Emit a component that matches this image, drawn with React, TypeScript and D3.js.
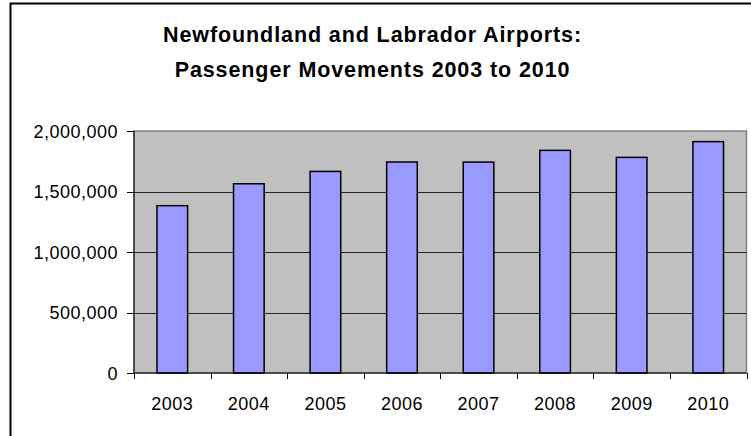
import React from "react";
import * as d3 from "d3";

const years = ["2003", "2004", "2005", "2006", "2007", "2008", "2009", "2010"];
const passengers = [1383000, 1564000, 1666000, 1744000, 1743000, 1840000, 1782000, 1912000];
const yTicks = [0, 500000, 1000000, 1500000, 2000000];
const titleLines = ["Newfoundland and Labrador Airports:", "Passenger Movements 2003 to 2010"];

export default function App() {
  const W = 751, H = 436;
  const left = 134, right = 746.5, top = 131, bottom = 373;
  const x = d3.scaleBand().domain(years).range([left, right]).paddingInner(0.6).paddingOuter(0.3);
  const xb = d3.scaleBand().domain(years).range([left, right]);
  const y = d3.scaleLinear().domain([0, 2000000]).range([bottom, top]);
  const fmt = d3.format(",");
  const font = "'Liberation Sans', Arial, sans-serif";
  return (
    <svg width={W} height={H} style={{ position: "absolute", left: 0, top: 0 }}>
      <rect x={0} y={0} width={W} height={H} fill="#fff" />
      <rect x={10.5} y={3.5} width={W + 10} height={H + 10} fill="none" stroke="#000" strokeWidth={2} />
      {titleLines.map((t, i) => (
        <text key={i} x={372.5} y={41.5 + i * 35} textAnchor="middle" fontFamily={font} fontWeight="bold" fontSize={21.5} letterSpacing={0.9} fill="#000">{t}</text>
      ))}
      <rect x={left} y={top} width={right - left} height={bottom - top} fill="#C0C0C0" stroke="#808080" strokeWidth={1.5} />
      {yTicks.filter(v => v > 0 && v < 2000000).map(v => (
        <line key={v} x1={left} x2={right} y1={Math.round(y(v)) + 0.5} y2={Math.round(y(v)) + 0.5} stroke="#222" strokeWidth={1} />
      ))}
      {years.map((yr, i) => (
        <rect key={yr} x={x(yr)!} y={y(passengers[i])} width={x.bandwidth()} height={bottom - y(passengers[i])} fill="#9999FF" stroke="#000" strokeWidth={1.5} />
      ))}
      <line x1={left} x2={left} y1={top} y2={bottom} stroke="#000" strokeWidth={1} />
      <line x1={left} x2={right} y1={bottom} y2={bottom} stroke="#000" strokeWidth={1.2} />
      {yTicks.map(v => (
        <g key={v}>
          <line x1={left - 7} x2={left} y1={Math.round(y(v)) + 0.5} y2={Math.round(y(v)) + 0.5} stroke="#000" />
          <text x={118} y={y(v) + 6.5} textAnchor="end" fontFamily={font} fontSize={18} letterSpacing={0.5} fill="#000">{fmt(v)}</text>
        </g>
      ))}
      {[...years.map(yr => xb(yr)!), right].map((px, i) => (
        <line key={i} x1={Math.round(px) + 0.5} x2={Math.round(px) + 0.5} y1={bottom} y2={bottom + 6} stroke="#000" />
      ))}
      {years.map(yr => (
        <text key={yr} x={xb(yr)! + xb.bandwidth() / 2} y={409.5} textAnchor="middle" fontFamily={font} fontSize={18} letterSpacing={0.5} fill="#000">{yr}</text>
      ))}
    </svg>
  );
}
